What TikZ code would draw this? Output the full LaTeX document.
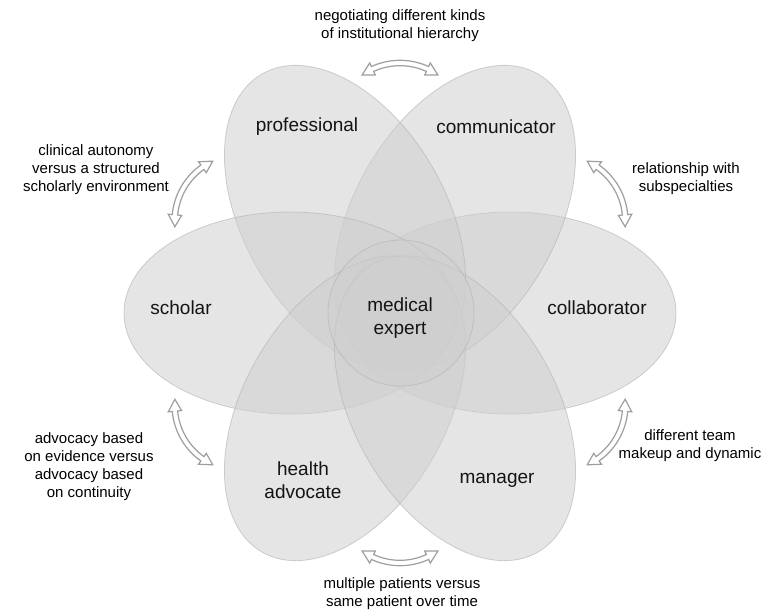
\documentclass[tikz,border=0pt]{standalone}
\usepackage{fontspec}
\setmainfont{Liberation Sans}

\tikzset{
  petal/.style={fill=black!19, fill opacity=0.55, draw=black!30, draw opacity=0.6, line width=0.8},
  role/.style={text=black!92, font=\fontsize{19}{23}\selectfont, align=center, text opacity=1},
  strainlabel/.style={text=black, font=\fontsize{15}{18}\selectfont, align=center},
  twoarrow/.style={draw=black!38, fill=white, line width=1.2, line join=miter}
}

% hollow bent two-way arrow, #1 = direction from the centre
\newcommand{\bendarrow}[1]{%
  \begin{scope}[shift={(#1:250)}, rotate=#1-90, shift={(0,-66)}]
    \draw[twoarrow] (65.4:63.3) arc[start angle=65.4, end angle=114.6, radius=63.3]
      -- (114.6:59.3) -- (125:66) -- (114.6:72.7) -- (114.6:68.7)
      arc[start angle=114.6, end angle=65.4, radius=68.7]
      -- (65.4:72.7) -- (55:66) -- (65.4:59.3) -- cycle;
  \end{scope}}

\begin{document}
\begin{tikzpicture}[x=1pt, y=1pt]
\useasboundingbox (-400,-298) rectangle (375,313);

% the six roles
\foreach \a in {0,60,...,300}
  \draw[petal, rotate=\a] (110,0) ellipse [x radius=166, y radius=101];
\draw[petal] (1,0) circle [radius=73];

\node[role] (professional) at (-93,186) {professional};
\node[role] (communicator) at (96,186) {communicator};
\node[role] (scholar) at (-219,5) {scholar};
\node[role] (collaborator) at (197,5) {collaborator};
\node[role] (advocate) at (-97,-167) {health\\advocate};
\node[role] (manager) at (97,-167) {manager};
\node[role] (expert) at (0,-5) {medical\\expert};

% tensions between neighbours
\foreach \a in {30,90,...,330}
  \bendarrow{\a};

\node[strainlabel] (hierarchy) at (0,287) {negotiating different kinds\\of institutional hierarchy};
\node[strainlabel] (autonomy) at (-304,143) {clinical autonomy\\versus a structured\\scholarly environment};
\node[strainlabel] (subspec) at (286,134) {relationship with\\subspecialties};
\node[strainlabel] (evidence) at (-311,-154) {advocacy based\\on evidence versus\\advocacy based\\on continuity};
\node[strainlabel] (team) at (290,-133) {different team\\makeup and dynamic};
\node[strainlabel] (patients) at (2,-281) {multiple patients versus\\same patient over time};

\end{tikzpicture}
\end{document}
